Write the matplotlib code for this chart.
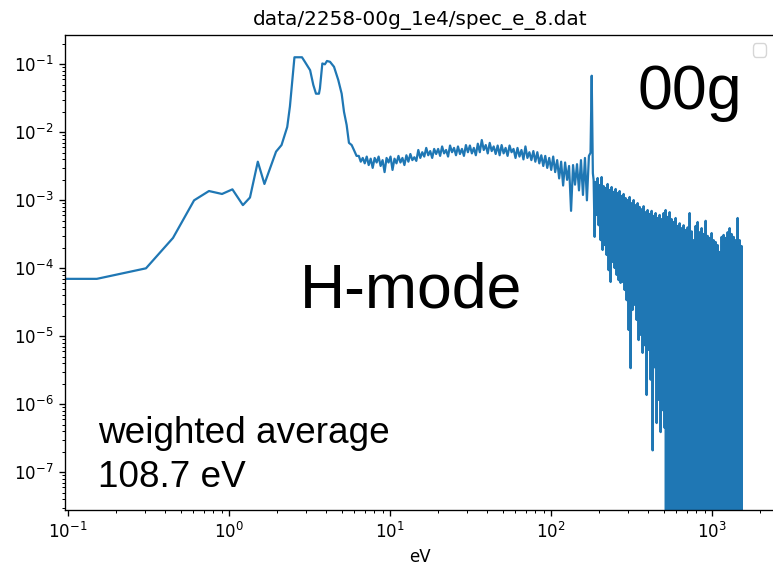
import numpy as np
import matplotlib
matplotlib.use("Agg")
import matplotlib.pyplot as plt

# ---------------- data ----------------
# low-energy part (eV, counts)
low_energy = [0.09, 0.151, 0.305, 0.449, 0.607, 0.751, 0.905, 1.05, 1.22, 1.35,
              1.51, 1.66, 1.96, 2.12, 2.30, 2.39, 2.55, 2.84, 2.96, 3.19,
              3.34, 3.47, 3.62, 3.67, 3.80, 3.94, 4.06, 4.24, 4.49, 4.77,
              5.01, 5.18, 5.38, 5.56, 5.78, 5.97, 6.2]
low_counts = [7.0e-5, 7.0e-5, 1.0e-4, 2.8e-4, 1.0e-3, 1.37e-3, 1.24e-3, 1.45e-3, 8.5e-4, 1.1e-3,
              3.7e-3, 1.74e-3, 5.2e-3, 6.5e-3, 1.2e-2, 2.4e-2, 0.127, 0.127, 0.109, 0.082,
              0.0497, 0.037, 0.037, 0.044, 0.103, 0.100, 0.112, 0.109, 0.092, 0.059,
              0.037, 0.020, 0.0128, 7.0e-3, 6.5e-3, 5.5e-3, 4.5e-3]

# mid-energy plateau (bins 6.4 .. 172 eV)
mid_range = (6.4, 172.0)
mid_counts = [
    4.5e-3, 3.7e-3, 4.2e-3, 3.5e-3, 4.4e-3, 3.3e-3, 4.1e-3, 3.0e-3, 4.2e-3, 3.6e-3,
    4.4e-3, 3.2e-3, 3.9e-3, 2.6e-3, 4.2e-3, 3.6e-3, 4.4e-3, 2.8e-3, 4.1e-3, 3.5e-3,
    4.5e-3, 3.6e-3, 4.2e-3, 3.3e-3, 4.6e-3, 3.7e-3, 4.8e-3, 3.9e-3, 4.3e-3, 3.8e-3,
    5.5e-3, 4.2e-3, 5.1e-3, 4.4e-3, 5.9e-3, 4.6e-3, 5.3e-3, 4.2e-3, 5.7e-3, 4.8e-3,
    5.7e-3, 4.5e-3, 6.2e-3, 4.9e-3, 5.5e-3, 4.4e-3, 6.4e-3, 5.1e-3, 5.9e-3, 4.6e-3,
    6.2e-3, 4.8e-3, 5.7e-3, 4.5e-3, 6.5e-3, 5.1e-3, 6.4e-3, 4.9e-3, 5.9e-3, 4.6e-3,
    6.8e-3, 5.1e-3, 7.7e-3, 5.5e-3, 6.5e-3, 4.9e-3, 7.0e-3, 5.3e-3, 6.2e-3, 4.8e-3,
    6.4e-3, 4.6e-3, 6.5e-3, 4.9e-3, 5.9e-3, 4.5e-3, 6.4e-3, 5.1e-3, 5.7e-3, 4.2e-3,
    5.9e-3, 4.4e-3, 5.5e-3, 4.0e-3, 6.2e-3, 4.2e-3, 5.1e-3, 3.9e-3, 5.3e-3, 3.7e-3,
    5.1e-3, 3.5e-3, 4.6e-3, 3.2e-3, 4.5e-3, 3.0e-3, 4.2e-3, 2.8e-3, 4.4e-3, 2.6e-3,
    3.9e-3, 2.1e-3, 3.7e-3, 1.65e-3, 3.6e-3, 2.0e-3, 3.2e-3, 7.0e-4, 3.3e-3, 1.7e-3,
    3.4e-3, 1.4e-3, 3.9e-3, 1.2e-3, 4.2e-3, 1.0e-3, 4.5e-3]

# line near 180 eV
line_energy = [176.0, 179.0, 182.0]
line_counts = [5.0e-3, 6.8e-2, 2.5e-3]

# high-energy tail (bins 184 .. 1550 eV), pairs of neighbouring bins
tail_range = (184.0, 1550.0)
tail_counts = [
    1.99e-3, 2.9e-4, 1.86e-3, 6.1e-4, 2.13e-3, 4.3e-4, 1.68e-3, 2.6e-4, 2.20e-3, 1.86e-4,
    1.62e-3, 2.2e-4, 1.52e-3, 1.57e-4, 1.74e-3, 9.4e-5, 1.42e-3, 6.3e-5, 1.57e-3, 1.24e-4,
    1.33e-3, 1.01e-4, 1.47e-3, 8.0e-5, 1.28e-3, 6.7e-5, 1.37e-3, 6.1e-5, 1.16e-3, 6.3e-5,
    1.24e-3, 4.8e-5, 1.08e-3, 3.4e-5, 1.01e-3, 1.24e-5, 1.12e-3, 3.4e-6, 9.1e-4, 2.44e-5,
    1.01e-3, 2.9e-5, 8.5e-4, 1.74e-5, 9.1e-4, 8.8e-6, 8.0e-4, 1.05e-5, 7.4e-4, 5.7e-6,
    8.2e-4, 7.4e-6, 6.7e-4, 1.37e-6, 7.2e-4, 6.3e-6, 6.3e-4, 2.3e-6, 7.0e-4, 2.1e-7,
    5.9e-4, 3.5e-6, 6.5e-4, 5.3e-7, 5.5e-4, 1.16e-6, 6.1e-4, 3.9e-7, 5.3e-4, 8.2e-7,
    6.5e-4, 4.5e-7, 7.2e-4, 0.0, 5.7e-4, 0.0, 6.7e-4, 0.0, 5.3e-4, 0.0,
    4.8e-4, 0.0, 5.5e-4, 0.0, 4.2e-4, 0.0, 4.6e-4, 0.0, 3.9e-4, 0.0,
    4.3e-4, 0.0, 3.66e-4, 0.0, 4.0e-4, 0.0, 6.5e-4, 0.0, 3.5e-4, 0.0,
    2.6e-4, 0.0, 4.2e-4, 0.0, 4.8e-4, 0.0, 3.4e-4, 0.0, 3.9e-4, 0.0,
    3.2e-4, 0.0, 5.0e-4, 0.0, 3.0e-4, 0.0, 2.8e-4, 0.0, 3.3e-4, 0.0,
    2.6e-4, 0.0, 2.44e-4, 0.0, 2.2e-4, 0.0, 1.74e-4, 0.0, 2.9e-4, 0.0,
    3.1e-4, 0.0, 2.8e-4, 0.0, 3.4e-4, 0.0, 3.9e-4, 0.0, 3.2e-4, 0.0,
    2.9e-4, 0.0, 2.6e-4, 0.0, 5.5e-4, 0.0, 2.6e-4, 0.0, 2.13e-4, 0.0]

title = "data/2258-00g_1e4/spec_e_8.dat"
xlabel = "eV"
label_tag = "00g"
label_mode = "H-mode"
label_avg = ["weighted average", "108.7 eV"]

# ---------------- assemble spectrum ----------------
mid_energy = np.geomspace(mid_range[0], mid_range[1], len(mid_counts))
tail_energy = np.geomspace(tail_range[0], tail_range[1], len(tail_counts))
energy = np.concatenate([low_energy, mid_energy, line_energy, tail_energy])
counts = np.concatenate([low_counts, mid_counts, line_counts, tail_counts])

# ---------------- style ----------------
s = 1.2
plt.rcParams.update({
    "font.family": ["DejaVu Sans"],
    "font.size": 10 * s,
    "path.simplify": False,
    "axes.linewidth": 0.8 * s,
    "xtick.major.size": 3.5 * s, "ytick.major.size": 3.5 * s,
    "xtick.minor.size": 2 * s, "ytick.minor.size": 2 * s,
    "xtick.major.width": 0.8 * s, "ytick.major.width": 0.8 * s,
    "xtick.minor.width": 0.6 * s, "ytick.minor.width": 0.6 * s,
    "xtick.major.pad": 3.5 * s, "ytick.major.pad": 3.5 * s,
    "axes.titlepad": 6 * s,
    "axes.labelpad": 4 * s,
})

fig = plt.figure(figsize=(7.73, 5.70), dpi=100)
W, H = 773.0, 570.0
ax = fig.add_axes([65 / W, 1 - 510 / H, (774.5 - 65) / W, (510 - 35) / H])

ax.plot(energy, counts, color="#1f77b4", lw=1.6)
ax.set_xscale("log")
ax.set_yscale("log")
ax.set_xlim(0.0958, 2445)
ax.set_ylim(2.79e-8, 0.27)
ax.set_title(title, fontsize=12 * s)
ax.set_xlabel(xlabel)
ax.legend(handles=[], loc="upper right")

big = ["Liberation Sans", "DejaVu Sans"]
fig.text(637 / W, 1 - 109 / H, label_tag, family=big, fontsize=45, va="baseline", ha="left")
fig.text(300 / W, 1 - 307 / H, label_mode, family=big, fontsize=45, va="baseline", ha="left")
fig.text(98 / W, 1 - 443 / H, label_avg[0], family=big, fontsize=26.6, va="baseline", ha="left")
fig.text(98 / W, 1 - 487 / H, label_avg[1], family=big, fontsize=26.6, va="baseline", ha="left")

fig.savefig("out.png", dpi=100)
